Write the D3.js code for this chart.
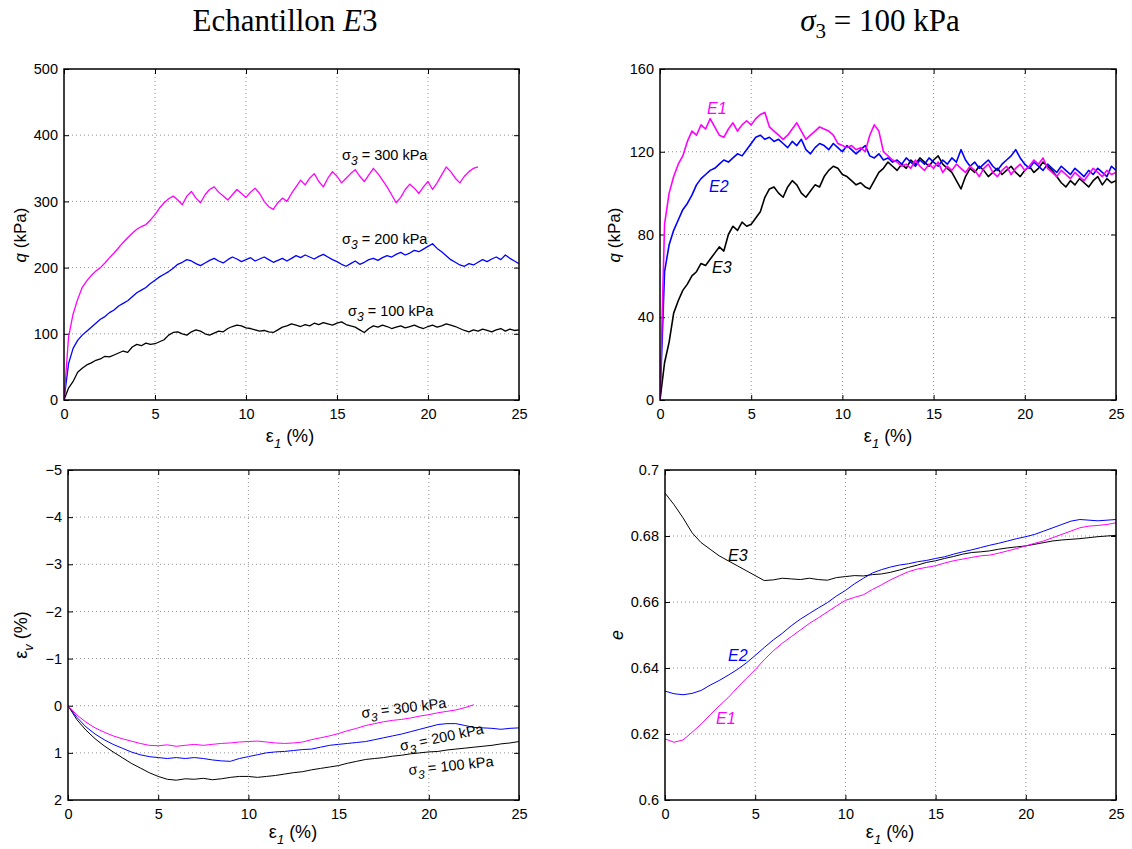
<!DOCTYPE html>
<html><head><meta charset="utf-8">
<script src="https://cdn.jsdelivr.net/npm/d3@7"></script>
<style>
body{margin:0;background:#fff;}
text{font-family:"Liberation Sans",Arial,sans-serif;}
</style></head>
<body>
<svg id="c" width="1132" height="849"></svg>
<script>
// ---------- DATA ----------
const strainTicks = [0, 5, 10, 15, 20, 25];
const qTicksLeft = [0, 100, 200, 300, 400, 500];
const qTicksRight = [0, 40, 80, 120, 160];
const evTicks = [-5, -4, -3, -2, -1, 0, 1, 2];
const eTicks = [0.6, 0.62, 0.64, 0.66, 0.68, 0.7];

const qStep = 0.25;   // strain spacing (%) of the q records
const vStep = 0.5;    // strain spacing (%) of the volume / void-ratio records

// deviator stress q (kPa), sample E3, sigma3 = 100 kPa (also curve E3 on the right)
const q100 = [0,18,28,42,48,53,56,60,62,66,65,68,71,74,72,80,84,82,86,84,85,88,91,98,102,103,100,98,103,106,104,100,98,101,104,103,108,111,113,112,109,108,106,104,105,103,102,106,110,112,115,113,111,114,112,116,114,117,115,113,116,118,114,112,110,106,102,108,112,110,113,111,108,110,112,109,111,113,110,108,111,113,110,112,115,113,111,108,105,103,106,104,107,105,103,106,108,104,107,105,106];
// sample E3, sigma3 = 200 kPa
const q200 = [0,55,78,90,98,104,110,116,122,126,132,136,142,146,150,156,162,166,170,176,181,186,190,194,199,205,208,212,210,206,203,207,211,214,210,207,212,216,213,209,212,215,210,213,216,212,208,211,214,210,214,218,215,219,216,213,217,220,216,212,209,205,202,206,210,205,208,212,214,211,215,218,216,220,223,219,222,226,224,228,232,236,229,224,218,212,208,204,202,206,204,208,212,209,213,216,212,219,214,210,206];
// sample E3, sigma3 = 300 kPa (test stops near 22.75 %)
const q300 = [0,95,130,152,170,180,188,195,200,207,215,222,230,238,245,252,258,262,265,272,280,290,298,304,308,302,295,308,315,305,298,310,318,322,314,308,302,310,318,312,306,314,320,312,300,292,288,298,305,300,312,322,332,325,335,342,330,322,335,345,338,328,335,342,348,338,330,340,350,342,332,322,310,298,306,318,326,320,312,322,330,318,328,340,352,345,335,328,338,345,350,352];
// sigma3 = 100 kPa, samples E1 and E2
const qE1 = [0,85,100,108,114,118,125,130,128,133,131,136,132,128,127,131,134,130,133,135,133,136,138,139,132,130,128,126,128,131,134,130,126,128,130,132,131,130,128,124,123,122,123,121,122,120,128,133,130,120,118,116,115,113,114,112,116,113,111,114,112,115,110,113,111,114,112,110,113,111,108,112,114,110,108,111,113,109,112,114,111,113,116,114,117,112,110,108,111,109,107,110,108,106,109,112,110,108,111,109,110];
const qE2 = [0,62,75,82,87,92,95,99,104,107,109,111,112,114,116,115,117,119,118,121,124,127,128,126,127,125,126,124,122,125,123,126,121,119,122,124,123,121,124,122,120,123,121,119,121,123,118,117,119,116,117,115,116,114,117,115,113,116,114,117,115,113,116,114,117,115,121,116,113,115,112,114,116,113,111,114,116,118,121,117,114,112,115,113,111,114,112,110,113,111,109,112,110,108,111,109,112,110,108,113,111];

// volumetric strain (%), sample E3
const ev100 = [0,0.3,0.52,0.7,0.85,0.98,1.1,1.22,1.32,1.42,1.5,1.56,1.58,1.55,1.56,1.54,1.57,1.55,1.52,1.5,1.5,1.52,1.5,1.48,1.45,1.42,1.4,1.36,1.33,1.3,1.27,1.22,1.18,1.14,1.12,1.1,1.07,1.05,1.02,1.0,0.98,0.97,0.94,0.92,0.9,0.88,0.86,0.84,0.81,0.79,0.76];
const ev200 = [0,0.25,0.45,0.6,0.72,0.82,0.9,0.98,1.04,1.08,1.1,1.12,1.1,1.12,1.1,1.12,1.15,1.17,1.18,1.12,1.08,1.04,1.0,0.98,0.97,0.95,0.93,0.92,0.88,0.84,0.82,0.8,0.78,0.76,0.72,0.68,0.64,0.6,0.55,0.5,0.45,0.4,0.38,0.38,0.42,0.46,0.47,0.48,0.5,0.48,0.47];
const ev300 = [0,0.2,0.35,0.47,0.56,0.64,0.7,0.75,0.8,0.84,0.85,0.83,0.86,0.84,0.82,0.84,0.82,0.8,0.79,0.77,0.76,0.75,0.77,0.79,0.8,0.79,0.77,0.72,0.68,0.64,0.59,0.53,0.48,0.42,0.38,0.34,0.31,0.29,0.26,0.22,0.19,0.15,0.12,0.09,0.04,-0.02];

// void ratio e, sigma3 = 100 kPa
const eE1 = [0.6185,0.6175,0.6182,0.6205,0.623,0.6258,0.6285,0.631,0.634,0.6368,0.6395,0.6425,0.6452,0.6475,0.6495,0.6515,0.6535,0.6552,0.657,0.6588,0.6605,0.6614,0.6622,0.6638,0.6652,0.6667,0.668,0.6692,0.67,0.6705,0.671,0.6718,0.6725,0.673,0.6735,0.674,0.6742,0.6748,0.6755,0.6762,0.677,0.6778,0.6785,0.6795,0.6805,0.6815,0.6825,0.683,0.6832,0.6835,0.684];
const eE2 = [0.633,0.6322,0.6319,0.6323,0.6332,0.6348,0.6362,0.6378,0.6395,0.6415,0.6438,0.6462,0.6485,0.6505,0.6528,0.6548,0.6565,0.6582,0.6598,0.6618,0.6635,0.6655,0.6672,0.6688,0.6698,0.6706,0.6712,0.6716,0.6722,0.6726,0.6732,0.6737,0.6745,0.6752,0.6758,0.6765,0.6772,0.6778,0.6785,0.6792,0.6798,0.6805,0.6815,0.6825,0.6835,0.6845,0.685,0.6848,0.6846,0.6848,0.685];
const eE3 = [0.693,0.6895,0.6855,0.681,0.678,0.676,0.674,0.6725,0.671,0.6695,0.668,0.6665,0.6667,0.6672,0.667,0.6668,0.6672,0.6668,0.6666,0.6674,0.6677,0.668,0.6679,0.6683,0.6685,0.669,0.6697,0.6705,0.6712,0.672,0.6725,0.6732,0.6738,0.6745,0.675,0.6752,0.6755,0.676,0.6764,0.6767,0.677,0.6775,0.678,0.6785,0.6788,0.679,0.6792,0.6795,0.6798,0.68,0.6802];

const MAGENTA = "#ff00ff", BLUE = "#0000ff", BLACK = "#000000";

// ---------- DRAW ----------
const svg = d3.select("#c");

function panel(o) {
  const x = d3.scaleLinear().domain([0, 25]).range([o.x0, o.x1]);
  const y = d3.scaleLinear().domain(o.yDomain).range([o.y1, o.y0]);
  const g = svg.append("g");
  const grid = g.append("g").attr("stroke", "#777").attr("stroke-width", 0.8).attr("stroke-dasharray", "1,3");
  strainTicks.slice(1, -1).forEach(t => grid.append("line").attr("x1", x(t)).attr("x2", x(t)).attr("y1", o.y0).attr("y2", o.y1));
  o.yTicks.forEach(t => { const p = y(t); if (Math.abs(p - o.y0) > 1 && Math.abs(p - o.y1) > 1) grid.append("line").attr("x1", o.x0).attr("x2", o.x1).attr("y1", p).attr("y2", p); });

  const fs = "14.5px";
  const ax = (gen, tr, labels) => {
    const a = g.append("g").attr("transform", tr).call(gen);
    a.select(".domain").remove();
    a.selectAll("line").attr("stroke", "#000");
    a.selectAll("text").style("font-size", fs).attr("fill", "#000");
    if (!labels) a.selectAll("text").remove();
    return a;
  };
  ax(d3.axisBottom(x).tickValues(strainTicks).tickSize(-5).tickPadding(9).tickFormat(d3.format("d")), `translate(0,${o.y1})`, true);
  ax(d3.axisTop(x).tickValues(strainTicks).tickSize(-5), `translate(0,${o.y0})`, false);
  ax(d3.axisLeft(y).tickValues(o.yTicks).tickSize(-5).tickPadding(6).tickFormat(o.yFmt), `translate(${o.x0},0)`, true);
  ax(d3.axisRight(y).tickValues(o.yTicks).tickSize(-5), `translate(${o.x1},0)`, false);

  const clip = "clip" + Math.round(o.x0) + "_" + Math.round(o.y0);
  svg.append("clipPath").attr("id", clip).append("rect").attr("x", o.x0).attr("y", o.y0).attr("width", o.x1 - o.x0).attr("height", o.y1 - o.y0);
  const lines = g.append("g").attr("clip-path", `url(#${clip})`);
  o.series.forEach(s => {
    const line = d3.line().x((d, i) => x(i * s.step)).y(d => y(d));
    lines.append("path").attr("d", line(s.values)).attr("fill", "none").attr("stroke", s.color).attr("stroke-width", s.w || 1).attr("stroke-linejoin", "round");
  });
  g.append("rect").attr("x", o.x0).attr("y", o.y0).attr("width", o.x1 - o.x0).attr("height", o.y1 - o.y0).attr("fill", "none").attr("stroke", "#000").attr("stroke-width", 1.5);
  return { x, y, g };
}

function strainLabel(cx, cy) {
  const t = svg.append("text").attr("x", cx).attr("y", cy).attr("text-anchor", "middle").style("font-size", "18px");
  t.append("tspan").text("ε");
  t.append("tspan").attr("dy", 6).style("font-size", "13px").style("font-style", "italic").text("1");
  t.append("tspan").attr("dy", -6).text(" (%)");
}
function sigmaLabel(parent, x, y, val, rot) {
  const t = parent.append("text").attr("transform", `translate(${x},${y}) rotate(${rot || 0})`).style("font-size", "14.5px");
  t.append("tspan").text("σ");
  t.append("tspan").attr("dy", 5).style("font-size", "12px").style("font-style", "italic").text("3");
  t.append("tspan").attr("dy", -5).text(` = ${val} kPa`);
}
function tag(x, y, txt, color) {
  svg.append("text").attr("x", x).attr("y", y).style("font-size", "16px").style("font-style", "italic").attr("fill", color).text(txt);
}

// Titles
const tt = svg.append("text").attr("x", 285).attr("y", 31).attr("text-anchor", "middle").style("font-family", "'Liberation Serif','DejaVu Serif',serif").style("font-size", "31px");
tt.append("tspan").text("Echantillon ");
tt.append("tspan").style("font-style", "italic").text("E");
tt.append("tspan").text("3");
const t2 = svg.append("text").attr("x", 880).attr("y", 31).attr("text-anchor", "middle").style("font-family", "'Liberation Serif','DejaVu Serif',serif").style("font-size", "31px");
t2.append("tspan").style("font-style", "italic").text("σ");
t2.append("tspan").attr("dy", 7).style("font-size", "21px").text("3");
t2.append("tspan").attr("dy", -7).text(" = 100 kPa");

// Top-left
const p1 = panel({ x0: 64, x1: 519, y0: 69, y1: 400, yDomain: [0, 500], yTicks: qTicksLeft, yFmt: d3.format("d"),
  series: [{ values: q100, step: qStep, color: BLACK, w: 1.3 }, { values: q200, step: qStep, color: BLUE, w: 1.3 }, { values: q300, step: qStep, color: MAGENTA, w: 1.3 }] });
sigmaLabel(svg, 342, 160, 300);
sigmaLabel(svg, 342, 244, 200);
sigmaLabel(svg, 348, 316, 100);

// Top-right
const p2 = panel({ x0: 660, x1: 1116, y0: 69, y1: 400, yDomain: [0, 160], yTicks: qTicksRight, yFmt: d3.format("d"),
  series: [{ values: q100, step: qStep, color: BLACK, w: 1.6 }, { values: qE2, step: qStep, color: BLUE, w: 1.6 }, { values: qE1, step: qStep, color: MAGENTA, w: 1.6 }] });
tag(707, 114, "E1", MAGENTA);
tag(709, 192, "E2", BLUE);
tag(712, 273, "E3", BLACK);

// Bottom-left
const p3 = panel({ x0: 68, x1: 519, y0: 470, y1: 800, yDomain: [2, -5], yTicks: evTicks, yFmt: d3.format("d"),
  series: [{ values: ev100, step: vStep, color: BLACK }, { values: ev200, step: vStep, color: BLUE }, { values: ev300, step: vStep, color: MAGENTA }] });
sigmaLabel(svg, 362, 718, 300, -7);
sigmaLabel(svg, 401, 751, 200, -12);
sigmaLabel(svg, 409, 775, 100, -6);

// Bottom-right
const p4 = panel({ x0: 665, x1: 1116, y0: 470, y1: 800, yDomain: [0.6, 0.7], yTicks: eTicks, yFmt: d => d3.format("")(+d.toFixed(2)),
  series: [{ values: eE3, step: vStep, color: BLACK }, { values: eE2, step: vStep, color: BLUE }, { values: eE1, step: vStep, color: MAGENTA }] });
tag(728, 561, "E3", BLACK);
tag(728, 661, "E2", BLUE);
tag(716, 724, "E1", MAGENTA);

// Axis labels
strainLabel(290, 442);
strainLabel(888, 442);
strainLabel(293, 838);
strainLabel(890, 838);

function yLabel(x, y, parts) {
  const t = svg.append("text").attr("transform", `translate(${x},${y}) rotate(-90)`).attr("text-anchor", "middle").style("font-size", "17px");
  parts(t);
}
yLabel(26, 235, t => { t.append("tspan").style("font-style", "italic").text("q"); t.append("tspan").text(" (kPa)"); });
yLabel(620, 235, t => { t.append("tspan").style("font-style", "italic").text("q"); t.append("tspan").text(" (kPa)"); });
yLabel(27, 635, t => { t.append("tspan").style("font-size", "18px").text("ε"); t.append("tspan").attr("dy", 6).style("font-size", "13px").style("font-style", "italic").text("v"); t.append("tspan").attr("dy", -6).style("font-size", "18px").text(" (%)"); });
yLabel(623, 635, t => { t.append("tspan").style("font-style", "italic").style("font-size", "18px").text("e"); });
</script>
</body></html>
